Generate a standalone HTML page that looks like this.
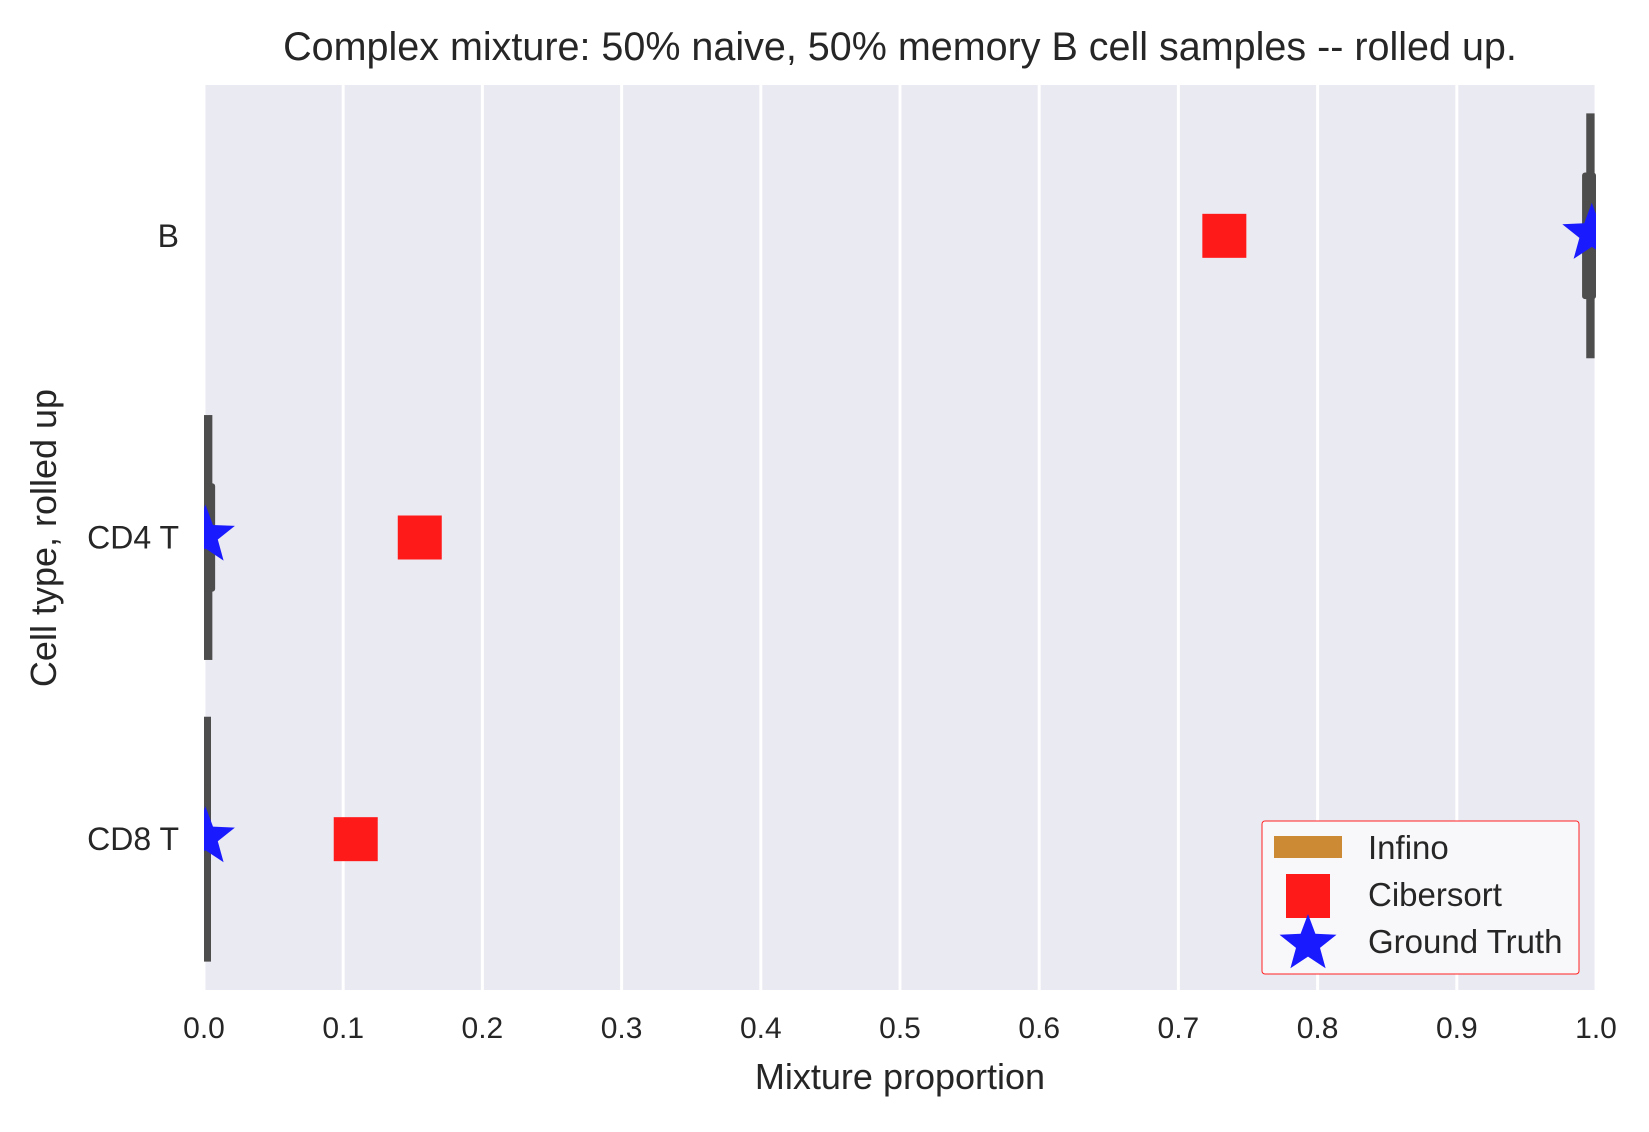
<!DOCTYPE html>
<html><head><meta charset="utf-8"><style>
html,body{margin:0;padding:0;background:#fff;}
svg text{font-family:"Liberation Sans",sans-serif;fill:#262626;}
</style></head><body>
<svg id="chart" width="1649" height="1127" viewBox="0 0 1649 1127" xmlns="http://www.w3.org/2000/svg">
<rect x="204" y="85" width="1392" height="905" fill="#eaeaf2"/>
<g id="grid"></g>
<g id="marks"></g>
<text x="900" y="60" font-size="39.5" text-anchor="middle">Complex mixture: 50% naive, 50% memory B cell samples -- rolled up.</text>
<text x="900" y="1089" font-size="36" text-anchor="middle">Mixture proportion</text>
<text transform="translate(56,538) rotate(-90)" font-size="36" text-anchor="middle">Cell type, rolled up</text>
<g id="xticks"></g><g id="yticks"></g>
<g>
<rect x="1262" y="821" width="317" height="153" fill="#f8f8fb" stroke="#ff2020" stroke-width="1" rx="3"/>
<rect x="1274" y="836" width="68" height="22" fill="#cd8a34"/>
<text x="1368" y="859" font-size="33">Infino</text>
<rect x="1286" y="874" width="44" height="44" fill="#ff1a1a"/>
<text x="1368" y="906" font-size="33">Cibersort</text>
<polygon id="legstar" fill="#1a1aff"/>
<text x="1368" y="953" font-size="33">Ground Truth</text>
</g>
</svg>
<script>
const categories=["B","CD4 T","CD8 T"];
const cibersort=[0.733,0.155,0.109];
const truth=[0.997,0.001,0.001];
const whiskLo=[0.993,0.0,0.0];
const whiskHi=[0.999,0.006,0.003];
const boxLo=[0.99,-0.001,-0.001];
const boxHi=[1.0,0.008,0.005];
const whiskSpan=[0.41,0.41,0.41];
const boxSpan=[0.21,0.18,0.18];
const xTicks=[0,0.1,0.2,0.3,0.4,0.5,0.6,0.7,0.8,0.9,1.0];
const X0=204,X1=1596,Y0=85,Y1=990;
const band=(Y1-Y0)/categories.length;
const xs=v=>X0+v*(X1-X0);
const yc=i=>Y0+band*(i+0.5);
const NS="http://www.w3.org/2000/svg";
function mk(parent,tag,attrs){const e=document.createElementNS(NS,tag);for(const k in attrs)e.setAttribute(k,attrs[k]);document.getElementById(parent).appendChild(e);return e;}
function starPts(cx,cy,R){const r=R*0.42;let p=[];for(let k=0;k<10;k++){const a=-Math.PI/2+k*Math.PI/5;const rr=k%2?r:R;p.push((cx+rr*Math.cos(a)).toFixed(1)+","+(cy+rr*Math.sin(a)).toFixed(1));}return p.join(" ");}
const defs=document.createElementNS(NS,"defs");
defs.innerHTML='<clipPath id="clip"><rect x="204" y="85" width="1392" height="905"/></clipPath>';
document.getElementById("chart").insertBefore(defs,document.getElementById("chart").firstChild);
xTicks.forEach(t=>{
const g=mk("grid","line",{x1:xs(t),x2:xs(t),y1:Y0,y2:Y1,stroke:"#fff","stroke-width":3});


const tx=mk("xticks","text",{x:xs(t),y:1038,"font-size":30,"text-anchor":"middle"});
tx.textContent=t.toFixed(1);


});
categories.forEach((c,i)=>{
const cy=yc(i);
const ty=mk("yticks","text",{x:179,y:cy+11,"font-size":32,"text-anchor":"end"});
ty.textContent=c;


const w=mk("marks","rect",{x:xs(whiskLo[i]),y:cy-band*whiskSpan[i]*0.99,width:Math.max(7,xs(whiskHi[i])-xs(whiskLo[i])),height:band*whiskSpan[i]*1.98,fill:"#4d4d4d","clip-path":"url(#clip)"});


const b=mk("marks","rect",{x:xs(boxLo[i]),y:cy-band*boxSpan[i],width:Math.max(8,xs(boxHi[i])-xs(boxLo[i])),height:band*boxSpan[i]*2,rx:3,fill:"#4d4d4d","clip-path":"url(#clip)"});


const s=mk("marks","rect",{x:xs(cibersort[i])-22,y:cy-22,width:44,height:44,fill:"#ff1a1a"});


const st=mk("marks","polygon",{points:starPts(xs(truth[i]),cy-2,31),fill:"#1a1aff","clip-path":"url(#clip)"});


});
document.getElementById("legstar").setAttribute("points",starPts(1308,944,30));
</script>
</body></html>
